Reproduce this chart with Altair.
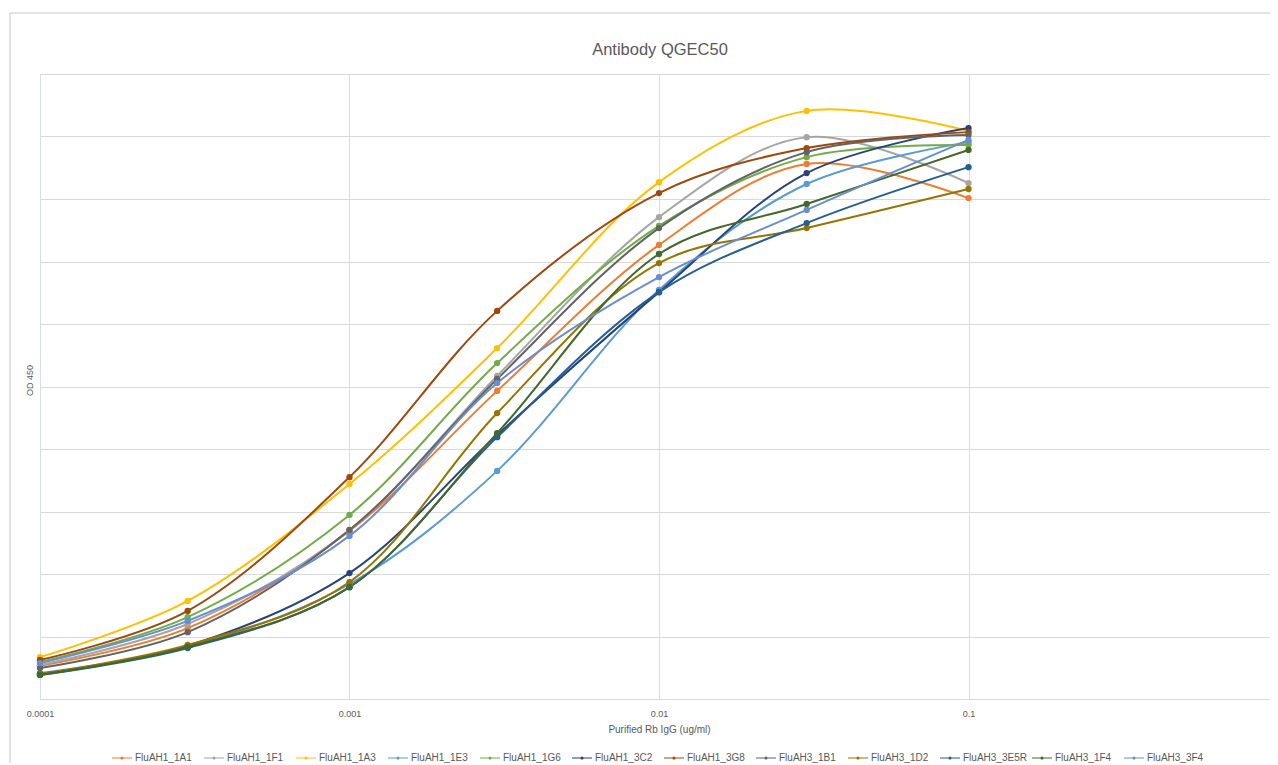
import altair as alt
import pandas as pd

concentrations = [0.0001, 0.0003, 0.001, 0.003, 0.01, 0.03, 0.1]

series_names = ["FluAH1_1A1", "FluAH1_1F1", "FluAH1_1A3", "FluAH1_1E3", "FluAH1_1G6", "FluAH1_3C2",
                "FluAH1_3G8", "FluAH3_1B1", "FluAH3_1D2", "FluAH3_3E5R", "FluAH3_1F4", "FluAH3_3F4"]

od_1A1 = [0.106, 0.227, 0.538, 0.986, 1.453, 1.712, 1.603]
od_1F1 = [0.109, 0.240, 0.541, 1.034, 1.542, 1.798, 1.651]
od_1A3 = [0.134, 0.314, 0.688, 1.123, 1.654, 1.882, 1.818]
od_1E3 = [0.083, 0.166, 0.368, 0.730, 1.309, 1.648, 1.782]
od_1G6 = [0.118, 0.262, 0.589, 1.075, 1.514, 1.734, 1.773]
od_3C2 = [0.080, 0.170, 0.403, 0.845, 1.302, 1.683, 1.827]
od_3G8 = [0.125, 0.282, 0.710, 1.242, 1.619, 1.763, 1.814]
od_1B1 = [0.099, 0.214, 0.541, 1.024, 1.507, 1.750, 1.805]
od_1D2 = [0.080, 0.173, 0.374, 0.915, 1.395, 1.507, 1.632]
od_3E5R = [0.077, 0.163, 0.358, 0.838, 1.302, 1.523, 1.702]
od_1F4 = [0.077, 0.166, 0.358, 0.851, 1.424, 1.584, 1.757]
od_3F4 = [0.115, 0.250, 0.522, 1.011, 1.350, 1.565, 1.789]

series_values = [od_1A1, od_1F1, od_1A3, od_1E3, od_1G6, od_3C2,
                 od_3G8, od_1B1, od_1D2, od_3E5R, od_1F4, od_3F4]

colors = ["#ED7D31", "#A5A5A5", "#FFC000", "#5B9BD5", "#70AD47", "#264478",
          "#9E480E", "#636363", "#997300", "#255E91", "#43682B", "#698ED0"]

x_ticks = [0.0001, 0.001, 0.01, 0.1, 1]
y_ticks = [0, 0.2, 0.4, 0.6, 0.8, 1.0, 1.2, 1.4, 1.6, 1.8, 2.0]
chart_title = "Antibody QGEC50"

rows = []
for i, (name, vals) in enumerate(zip(series_names, series_values)):
    for c, v in zip(concentrations, vals):
        rows.append({"series": name, "conc": c, "od": v, "idx": i})
df = pd.DataFrame(rows)

W, H = 1230, 625
XR = 1238  # full log span 0.0001..1, right end runs past the page edge
FONT = "Liberation Sans"
TXT = "#595959"

color_scale = alt.Scale(domain=series_names, range=colors)
x_enc = alt.X("conc:Q", scale=alt.Scale(type="log", domain=[0.0001, 1], range=[0, XR]),
              axis=alt.Axis(values=x_ticks, format="~g", title="Purified Rb IgG (ug/ml)",
                            grid=True, gridColor="#D5DDEB", ticks=False, domainColor="#D9D9D9",
                            labelPadding=10, titlePadding=6, labelFontSize=9, titleFontSize=10,
                            labelColor=TXT, titleColor=TXT, titleFontWeight="normal",
                            labelFont=FONT, titleFont=FONT, labelFlush=False))
y_enc = alt.Y("od:Q", scale=alt.Scale(domain=[0, 2.0]),
              axis=alt.Axis(values=y_ticks, title="OD 450", labels=False, ticks=False, domain=False,
                            grid=True, gridColor="#D9D9D9", titlePadding=6, titleFontSize=9,
                            titleColor=TXT, titleFontWeight="normal", titleFont=FONT, titleY=306))

legend_shape = ("M-1,-0.05 L1,-0.05 L1,0.05 L-1,0.05 Z "
                "M0.16,0 A0.16,0.16 0 1,1 -0.16,0 A0.16,0.16 0 1,1 0.16,0 Z")

legend = alt.Legend(title=None, orient="none", legendX=72, legendY=674,
                    direction="horizontal", columns=12, gridAlign="all",
                    symbolType=legend_shape, symbolSize=400, symbolStrokeWidth=0,
                    symbolOpacity=1, labelFontSize=10, labelColor=TXT,
                    labelFont=FONT, labelOffset=3, columnPadding=5)

frame = alt.Chart(pd.DataFrame({"a": [0]})).mark_rect(
    filled=False, stroke="#C6C6C6", strokeWidth=1
).encode(x=alt.value(-30), x2=alt.value(W + 60), y=alt.value(-61), y2=alt.value(H + 200))

title = alt.Chart(pd.DataFrame({"t": [chart_title]})).mark_text(
    font=FONT, fontSize=16.5, color=TXT, align="center", baseline="middle"
).encode(text="t:N", x=alt.value(620), y=alt.value(-24))

lines = alt.Chart(df).mark_line(interpolate="catmull-rom", strokeWidth=2).encode(
    x=x_enc, y=y_enc,
    color=alt.Color("series:N", scale=color_scale, legend=None),
    order=alt.Order("idx:Q"),
)

points = alt.Chart(df).mark_point(filled=True, size=40, opacity=1).encode(
    x=x_enc, y=y_enc,
    color=alt.Color("series:N", scale=color_scale, legend=legend),
)

chart = alt.layer(frame, title, lines, points).resolve_legend(color="independent").properties(
    width=W, height=H,
    autosize=alt.AutoSizeParams(type="none"),
    padding={"left": 32, "top": 66, "right": 0, "bottom": 64},
).configure_view(stroke=None).configure(background="white")

chart.save("out.html", embed_options={"renderer": "svg", "actions": False})
